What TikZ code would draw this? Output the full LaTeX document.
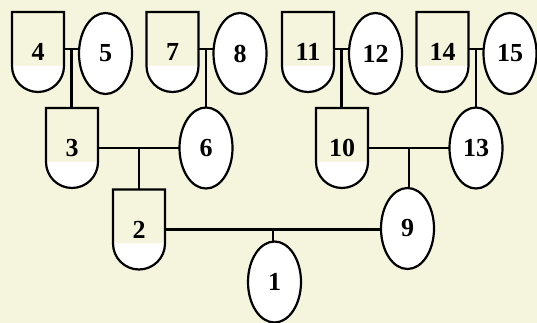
\documentclass[tikz,border=0pt]{standalone}
\usepackage{fontspec}
\setmainfont{Liberation Serif}
\usetikzlibrary{shapes.geometric,calc}
\definecolor{parch}{RGB}{245,245,222}
\tikzset{
  ln/.style={line width=2.2pt, draw=black},
  malebox/.style={rectangle, draw=none, minimum width=52pt, minimum height=80pt, inner sep=0pt, outer sep=0pt},
  femalebox/.style={ellipse, ln, fill=white, minimum width=53pt, minimum height=81pt, inner sep=0pt, outer sep=0pt},
  lbl/.style={font=\fontsize{26}{26}\selectfont\bfseries, inner sep=0pt},
  link/.style={ln}
}
\newcommand\malenode[4]{%
  \node[malebox] (#1) at (#2,323-#3) {};
  \fill[white] ([yshift=-54pt]#1.north west) arc[start angle=180,end angle=360,radius=26pt] -- cycle;
  \draw[ln, line join=miter] ([yshift=-54pt]#1.north west) -- (#1.north west) -- (#1.north east) -- ([yshift=-54pt]#1.north east) arc[start angle=0,end angle=-180,radius=26pt];
  \node[lbl] (#1l) at (#1) {#4};
}
\newcommand\femalenode[4]{%
  \node[femalebox] (#1) at (#2,323-#3) {};
  \node[lbl] (#1l) at (#1) {#4};
}
\begin{document}
\begin{tikzpicture}[x=1pt,y=1pt]
\fill[parch] (0,0) rectangle (537,323);
\useasboundingbox (0,0) rectangle (537,323);
% row 1
\malenode{n4}{38}{52}{4}
\femalenode{n5}{105.5}{53.5}{5}
\malenode{n7}{172.5}{52}{7}
\femalenode{n8}{240}{53.5}{8}
\malenode{n11}{308}{52}{11}
\femalenode{n12}{375.5}{53.5}{12}
\malenode{n14}{442.5}{52}{14}
\femalenode{n15}{510}{53.5}{15}
% row 2
\malenode{n3}{72}{148}{3}
\femalenode{n6}{206}{148}{6}
\malenode{n10}{342}{148}{10}
\femalenode{n13}{476}{148}{13}
% row 3
\malenode{n2}{139}{229.5}{2}
\femalenode{n9}{407.5}{228.5}{9}
% row 4
\femalenode{n1}{274.5}{282}{1}
% couples and children
\draw[link] ([yshift=3pt]n4.east) -- ([yshift=3pt]n4.east -| n5.west) coordinate[midway] (m45);
\draw[link] (m45) -- (m45 |- n3.north);
\draw[link] ([yshift=3pt]n7.east) -- ([yshift=3pt]n7.east -| n8.west) coordinate[midway] (m78);
\draw[link] (m78) -- (m78 |- n6.north);
\draw[link] ([yshift=3pt]n11.east) -- ([yshift=3pt]n11.east -| n12.west) coordinate[midway] (m1112);
\draw[link] (m1112) -- (m1112 |- n10.north);
\draw[link] ([yshift=3pt]n14.east) -- ([yshift=3pt]n14.east -| n15.west) coordinate[midway] (m1415);
\draw[link] (m1415) -- (m1415 |- n13.north);
\draw[link] (n3.east) -- (n3.east -| n6.west) coordinate[midway] (m36);
\draw[link] (m36) -- (m36 |- n2.north);
\draw[link] (n10.east) -- (n10.east -| n13.west) coordinate[midway] (m1013);
\draw[link] (m1013) -- (m1013 |- n9.north);
\draw[link] (n2.east) -- (n2.east -| n9.west) coordinate[midway] (m29);
\draw[link] (m29) -- (m29 |- n1.north);
\end{tikzpicture}
\end{document}
